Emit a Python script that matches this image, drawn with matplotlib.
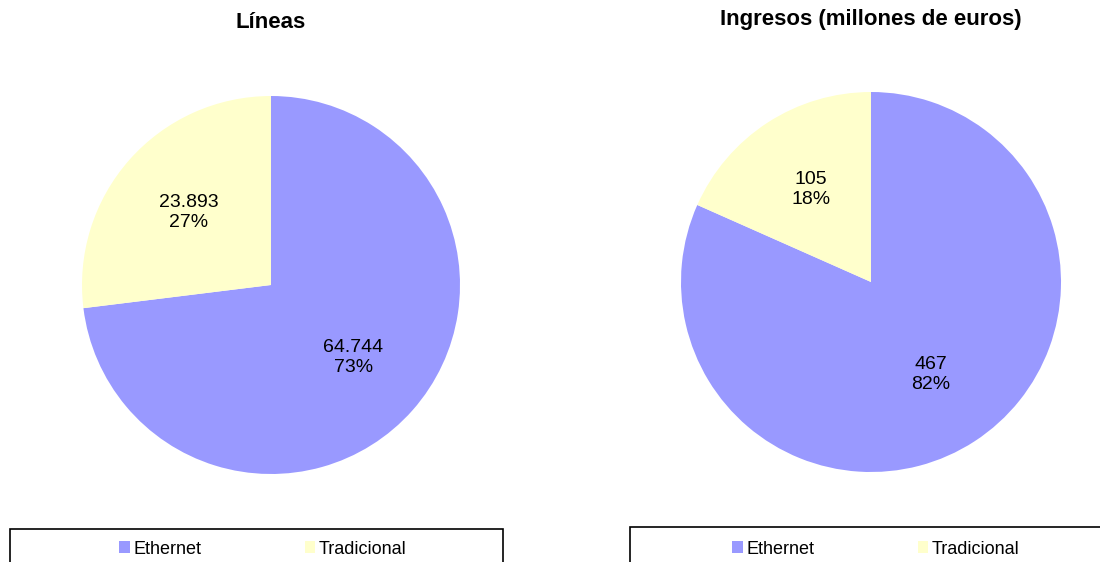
import matplotlib.pyplot as plt
from matplotlib.patches import Rectangle

plt.rcParams['font.family'] = ['Liberation Sans', 'DejaVu Sans']

# Datos
categorias = ['Ethernet', 'Tradicional']
lineas = [64744, 23893]
lineas_txt = ['64.744', '23.893']
ingresos = [467, 105]
ingresos_txt = ['467', '105']
colores = ['#9999FF', '#FFFFCC']

W, H = 1100, 562
fig = plt.figure(figsize=(W / 100, H / 100), dpi=100)


def tarta(cx, cy, r, valores, textos, titulo, title_y):
    ax = fig.add_axes([(cx - r) / W, (H - cy - r) / H, 2 * r / W, 2 * r / H])
    etiquetas = iter(textos)

    def fmt(p):
        return '%s\n%d%%' % (next(etiquetas), round(p))

    ax.pie(valores, colors=colores, startangle=90, counterclock=False,
           autopct=fmt, pctdistance=0.58, radius=1,
           textprops={'fontsize': 14, 'color': 'black', 'linespacing': 1.2})
    ax.set_xlim(-1, 1)
    ax.set_ylim(-1, 1)
    ax.set_aspect('auto')
    ax.axis('off')
    fig.text(cx / W, 1 - title_y / H, titulo, ha='center', va='center',
             fontsize=16, fontweight='bold')


tarta(271, 285, 189, lineas, lineas_txt, 'Líneas', 22)
tarta(871, 282, 190, ingresos, ingresos_txt, 'Ingresos (millones de euros)', 20)

# Cajas de leyenda (cortadas por el borde inferior)
for x0, x1, y0 in [(10, 503, 529), (630, 1110, 527)]:
    fig.patches.append(Rectangle((x0 / W, -0.05), (x1 - x0) / W, (H - y0) / H + 0.05,
                                 transform=fig.transFigure, fill=False,
                                 edgecolor='black', linewidth=1.2))

handles = [Rectangle((0, 0), 1, 1, facecolor=c, edgecolor='none') for c in colores]
for cx in [263, 876]:
    fig.legend(handles, categorias, loc='center', ncol=2, frameon=False,
               bbox_to_anchor=(cx / W, 1 - 549 / H), fontsize=13,
               handlelength=0.6, handleheight=0.6, handletextpad=0.2,
               columnspacing=5.7)

fig.savefig('out.png', dpi=100)
